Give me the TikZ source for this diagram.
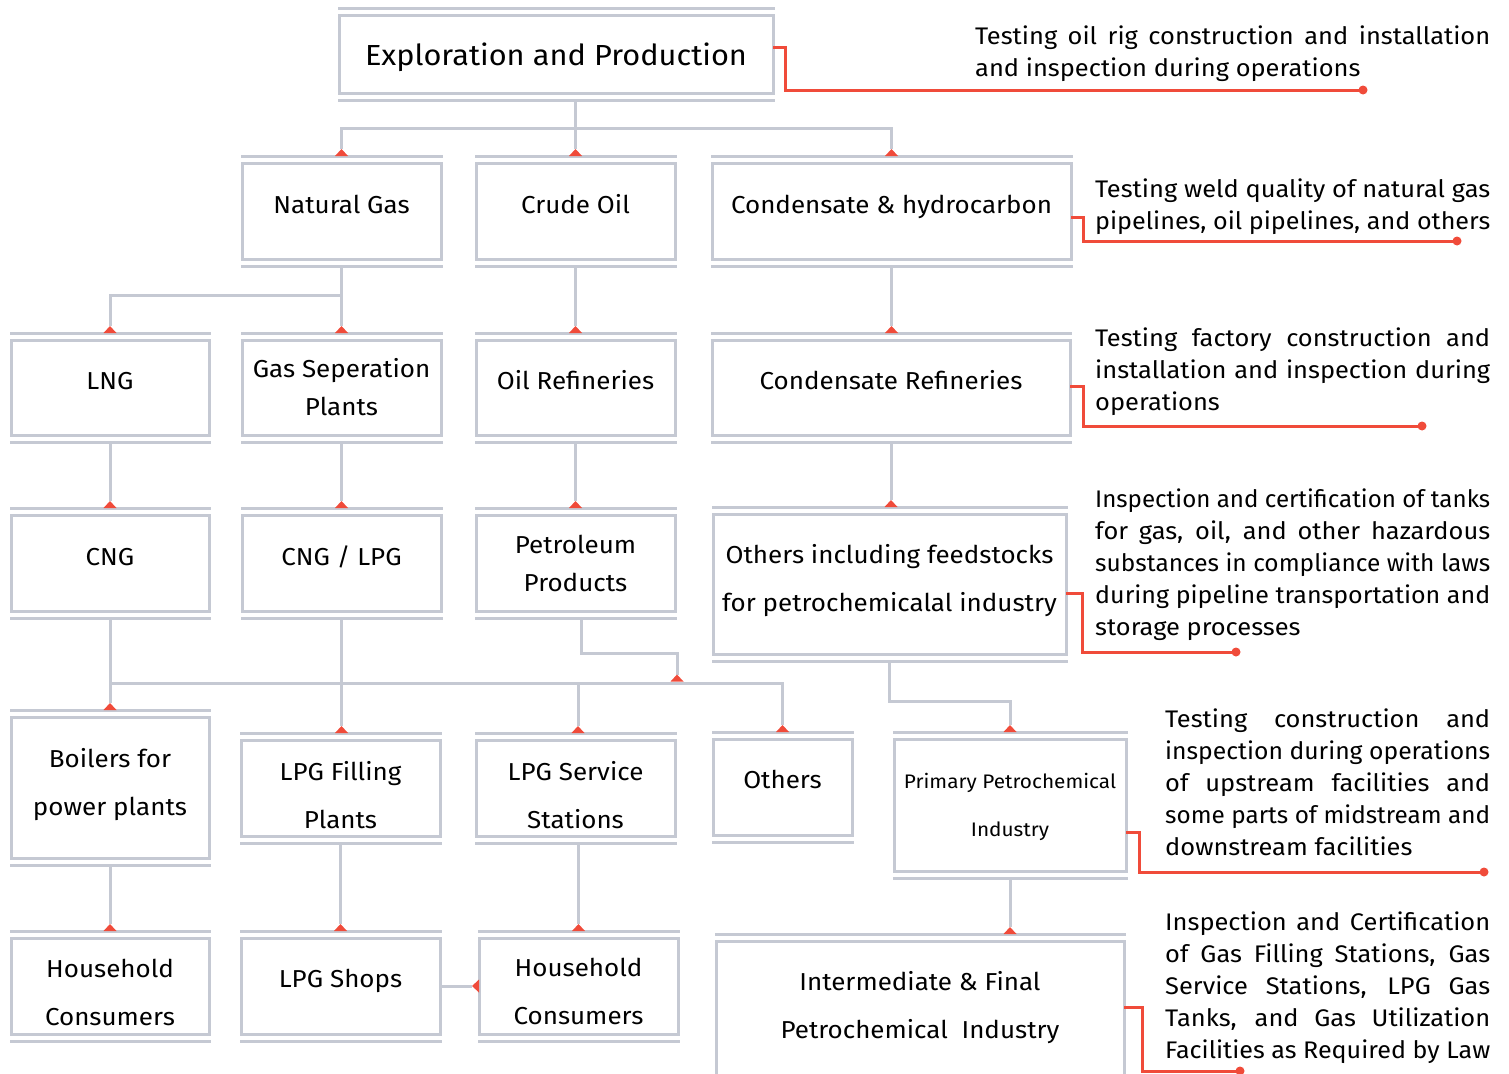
\documentclass[tikz,border=0pt]{standalone}
\usepackage{fontspec}
\setmainfont{Fira Sans}[FakeStretch=1.06]
\usetikzlibrary{arrows.meta}
\definecolor{lg}{HTML}{C5C9D3}
\definecolor{ar}{HTML}{F04B3A}
\newsavebox\jlbox
\newcommand\jl[1]{\sbox\jlbox{#1}%
  \ifdim\wd\jlbox>\linewidth \resizebox{\linewidth}{\ht\jlbox}{\usebox\jlbox}%
  \else\makebox[\linewidth][s]{#1}\fi}
\newcommand\mybox[5]{%
  \node[pbox, minimum width={#4-#2}, minimum height={#5-#3}] (#1) at ({(#2+#4)/2},{(#3+#5)/2}) {};
  \draw[conn, line cap=rect] ([yshift=7pt]#1.north west) -- ([yshift=7pt]#1.north east);
  \draw[conn, line cap=rect] ([yshift=-7pt]#1.south west) -- ([yshift=-7pt]#1.south east);
  \coordinate (#1-t) at ([yshift=7pt]#1.north);
  \coordinate (#1-b) at ([yshift=-7pt]#1.south);
}
\newcommand\btext[5][\fontsize{24.5}{48}\selectfont]{%
  \node[anchor=base, inner sep=0pt, font=#1] (#2) at (#3,#4) {\begin{tabular}[t]{@{}c@{}}#5\end{tabular}};
}
\begin{document}
\begin{tikzpicture}[x=1pt,y=-1pt,
  pbox/.style={draw=lg, line width=3pt, rectangle, inner sep=0pt, outer sep=0pt},
  conn/.style={draw=lg, line width=3pt},
  tipc/.style={conn, -{Triangle[reversed,width=13pt,length=7pt,color=ar,line width=0pt]}},
  ann/.style={draw=ar, line width=3pt},
  atext/.style={anchor=base west, inner sep=0pt, font=\fontsize{24}{32}\selectfont}]
\useasboundingbox (0,0) rectangle (1509,1073);
\clip (0,0) rectangle (1509,1073);

% boxes
\mybox{ep}{339}{16}{773}{93}
\mybox{ng}{242}{163}{441}{259}
\mybox{co}{476}{163}{675}{259}
\mybox{ch}{712}{163}{1071}{259}
\mybox{lng}{11}{340}{209}{435}
\mybox{gsp}{242}{340}{441}{435}
\mybox{orf}{476}{340}{675}{435}
\mybox{cr}{712}{340}{1070}{435}
\mybox{cng}{11}{515}{209}{611}
\mybox{cl}{242}{515}{441}{611}
\mybox{pp}{476}{515}{675}{611}
\mybox{oth}{713}{514}{1066}{654}
\mybox{boil}{11}{717}{209}{858}
\mybox{lpgf}{241}{740}{440}{836}
\mybox{lpgs}{476}{740}{675}{836}
\mybox{others}{713}{739}{852}{835}
\mybox{ppi}{894}{739}{1126}{871}
\mybox{hha}{11}{938}{209}{1034}
\mybox{shops}{241}{938}{440}{1034}
\mybox{hhb}{479}{938}{678}{1034}
\mybox{inter}{716}{941}{1124}{1080}

% box texts
\btext[\fontsize{29}{40}\selectfont]{ep-l}{556}{66}{Exploration and Production}
\btext{ng-l}{341.5}{213}{Natural Gas}
\btext{co-l}{575.5}{213}{Crude Oil}
\btext{ch-l}{891.5}{213}{Condensate \& hydrocarbon}
\btext{lng-l}{110}{389}{LNG}
\btext[\fontsize{24.5}{38}\selectfont]{gsp-l}{341.5}{377}{Gas Seperation\\Plants}
\btext{orf-l}{575.5}{389}{Oil Refineries}
\btext{cr-l}{891}{389}{Condensate Refineries}
\btext{cng-l}{110}{565}{CNG}
\btext{cl-l}{341.5}{565}{CNG / LPG}
\btext[\fontsize{24.5}{38}\selectfont]{pp-l}{575.5}{553}{Petroleum\\Products}
\btext{oth-l}{889.5}{563}{Others including feedstocks\\for petrochemicalal industry}
\btext{boil-l}{110}{767}{Boilers for\\power plants}
\btext{lpgf-l}{340.5}{780}{LPG Filling\\Plants}
\btext{lpgs-l}{575.5}{780}{LPG Service\\Stations}
\btext{others-l}{782.5}{788}{Others}
\btext[\fontsize{19.6}{48}\selectfont]{ppi-l}{1010}{788}{Primary Petrochemical\\Industry}
\btext{hha-l}{110}{977}{Household\\Consumers}
\btext{shops-l}{340.5}{987}{LPG Shops}
\btext{hhb-l}{578.5}{976}{Household\\Consumers}
\btext{inter-l}{920}{990}{Intermediate \& Final\\Petrochemical\ \ Industry}

% connectors
\coordinate (b1) at (575.5,128);
\draw[conn] (b1 |- ep-b) -- (b1);
\draw[tipc] (b1) -- (co-t);
\draw[tipc] (b1) -| (ng-t);
\draw[tipc] (b1) -| (ch-t);

\coordinate (b2) at (341.5,295);
\draw[tipc] (ng-b) -- (gsp-t);
\draw[tipc] (b2) -| (lng-t);
\draw[tipc] (co-b) -- (orf-t);
\draw[tipc] (ch-b) -- (ch-b |- cr-t);

\draw[tipc] (lng-b) -- (cng-t);
\draw[tipc] (gsp-b) -- (cl-t);
\draw[tipc] (orf-b) -- (pp-t);
\draw[tipc] (cr-b) -- (cr-b |- oth-t);

\coordinate (b3) at (110,683);
\coordinate (b4) at (578,683);
\coordinate (b5) at (677,681.5);
\coordinate (pj) at (581,653);
\draw[tipc] (cng-b) -- (boil-t);
\draw[tipc] (b3) -| (others-t);
\draw[tipc] (cl-b) -- (cl-b |- lpgf-t);
\draw[tipc] (b4) -- (b4 |- lpgs-t);
\draw[tipc] (pj |- pp-b) -- (pj) -| (b5);
\coordinate (b6) at (1010,701);
\draw[tipc] (oth-b) |- (b6) -- (ppi-t);

\draw[tipc] (boil-b) -- (hha-t);
\draw[tipc] (lpgf-b) -- (shops-t);
\draw[tipc] (hhb-t |- lpgs-b) -- (hhb-t);
\draw[tipc] (ppi-b) -- (ppi-b |- inter-t);
\draw[tipc] (shops.east) -- (hhb.west);

% annotation leaders
\coordinate (d1) at (1363,90);
\coordinate (d2) at (1457,241);
\coordinate (d3) at (1422,426);
\coordinate (d4) at (1236,652);
\coordinate (d5) at (1484,872);
\coordinate (d6) at (1240,1071);
\draw[ann] ([yshift=6.5pt]ep.east) -- ++(12,0) |- (d1);
\draw[ann] ([yshift=-6pt]ch.east) -- ++(12,0) |- (d2);
\draw[ann] ([yshift=1.5pt]cr.east) -- ++(13,0) |- (d3);
\draw[ann] ([yshift=-9pt]oth.east) -- ++(16,0) |- (d4);
\draw[ann] ([yshift=-27pt]ppi.east) -- ++(13,0) |- (d5);
\draw[ann] ([yshift=3.5pt]inter.east) -- ++(18,0) |- (d6);
\foreach \d in {d1,d2,d3,d4,d5,d6} \fill[ar] (\d) circle (4.5pt);

% annotation texts
\node[atext] (a1) at (975,45) {\parbox[t]{515pt}{\jl{Testing oil rig construction and installation}\\and inspection during operations}};
\node[atext] (a2) at (1095,197) {\parbox[t]{395pt}{\jl{Testing weld quality of natural gas}\\\jl{pipelines, oil pipelines, and others}}};
\node[atext] (a3) at (1095,346) {\parbox[t]{395pt}{\jl{Testing factory construction and}\\\jl{installation and inspection during}\\operations}};
\node[atext] (a4) at (1095,507) {\parbox[t]{395pt}{\jl{Inspection and certification of tanks}\\\jl{for gas, oil, and other hazardous}\\\jl{substances in compliance with laws}\\\jl{during pipeline transportation and}\\storage processes}};
\node[atext] (a5) at (1165,727) {\parbox[t]{325pt}{\jl{Testing construction and}\\\jl{inspection during operations}\\\jl{of upstream facilities and}\\\jl{some parts of midstream and}\\downstream facilities}};
\node[atext] (a6) at (1165,930) {\parbox[t]{325pt}{\jl{Inspection and Certification}\\\jl{of Gas Filling Stations, Gas}\\\jl{Service Stations, LPG Gas}\\\jl{Tanks, and Gas Utilization}\\\jl{Facilities as Required by Law}}};
\end{tikzpicture}
\end{document}
